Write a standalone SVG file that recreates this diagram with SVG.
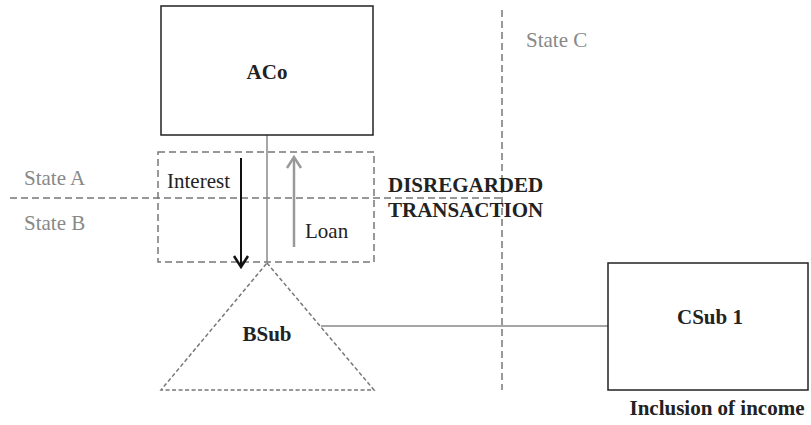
<svg xmlns="http://www.w3.org/2000/svg" width="811" height="425" viewBox="0 0 811 425">
<style>
.box{fill:#fff;stroke:#222;stroke-width:1.5}
.dash{fill:none;stroke:#777;stroke-width:1.5;stroke-dasharray:7,4}
.tri{fill:#fff;stroke:#777;stroke-width:1.5;stroke-dasharray:4,2.5}
.conn{fill:none;stroke:#888;stroke-width:1.5}
text{font-family:'Liberation Serif','Times New Roman',serif;font-size:21px}
.b{font-weight:bold;fill:#222}
.r{fill:#222}
.g{fill:#888}
</style>
<rect width="811" height="425" fill="#fff"/>
<g id="boundaries">
<line class="dash" x1="502" y1="10" x2="502" y2="390"/>
<line class="dash" x1="10" y1="198" x2="502" y2="198"/>
<rect class="dash" x="158" y="152" width="216" height="110"/>
<text class="g" x="526" y="47">State C</text>
<text class="g" x="24" y="185">State A</text>
<text class="g" x="24" y="230">State B</text>
</g>
<g id="connectors">
<line class="conn" x1="267" y1="135" x2="267" y2="264"/>
<line class="conn" x1="321" y1="326" x2="608" y2="326" stroke="#777"/>
<line x1="241" y1="158" x2="241" y2="266" stroke="#111" stroke-width="2"/>
<polyline points="234,256 241,267 248,256" fill="none" stroke="#111" stroke-width="2.5"/>
<line x1="294" y1="247" x2="294" y2="159" stroke="#999" stroke-width="2.5"/>
<polyline points="287,168 294,157 301,168" fill="none" stroke="#999" stroke-width="2.5"/>
<text class="r" x="167" y="188">Interest</text>
<text class="r" x="305" y="238">Loan</text>
<text class="b" x="388" y="192">DISREGARDED</text>
<text class="b" x="388" y="217">TRANSACTION</text>
</g>
<g id="ACo">
<rect class="box" x="161" y="6" width="212" height="129"/>
<text class="b" x="267" y="79" text-anchor="middle">ACo</text>
</g>
<g id="BSub">
<polygon class="tri" points="267,263 374,390 161,390"/>
<text class="b" x="267" y="341" text-anchor="middle">BSub</text>
</g>
<g id="CSub1">
<rect class="box" x="608" y="263" width="200" height="127"/>
<text class="b" x="710" y="324" text-anchor="middle">CSub 1</text>
<text class="b" x="717" y="415" text-anchor="middle">Inclusion of income</text>
</g>
</svg>
